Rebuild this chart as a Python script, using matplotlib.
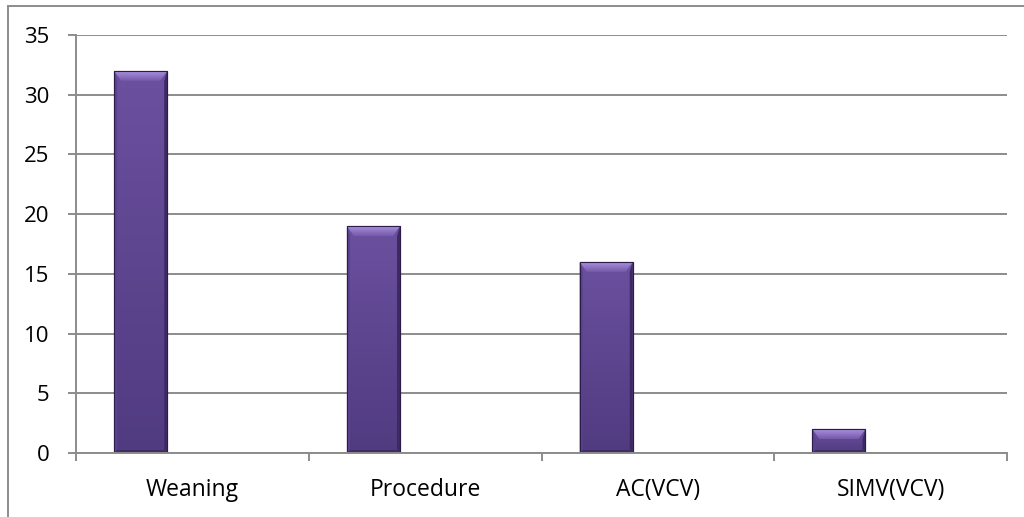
import matplotlib
matplotlib.use("Agg")
import matplotlib.pyplot as plt
import numpy as np
from matplotlib.patches import Polygon
from matplotlib.lines import Line2D
from matplotlib.colors import LinearSegmentedColormap

categories = ["Weaning", "Procedure", "AC(VCV)", "SIMV(VCV)"]
counts = [32, 19, 16, 2]
y_ticks = [0, 5, 10, 15, 20, 25, 30, 35]

plt.rcParams['font.family'] = ['Open Sans', 'DejaVu Sans']

W, H, DPI = 1024, 517, 100
fig = plt.figure(figsize=(W / DPI, H / DPI), dpi=DPI)
ax = fig.add_axes([76 / W, 1 - 453 / H, (1007 - 76) / W, (453 - 35) / H])

x = np.arange(len(categories))
bar_offset = -0.222   # bars sit left of the category centre (empty second series)
bar_width = 0.228

ax.set_xlim(-0.5, len(categories) - 0.5)
ax.set_ylim(0, 35)

# pixel -> data conversion for bevel sizes
px_x = 1.0 / ((1007 - 76) / len(categories))
px_y = 35.0 / (453 - 35)

body_cmap = LinearSegmentedColormap.from_list("body", ["#513b80", "#6b509f"])
top_cmap = LinearSegmentedColormap.from_list("top", ["#7559aa", "#a990de"])
grad = np.linspace(0, 1, 256).reshape(-1, 1)

bars = ax.bar(x + bar_offset, counts, width=bar_width, color="#5f4591",
              edgecolor="#2c1d47", linewidth=0.8, zorder=3)

for rect in bars:
    x0 = rect.get_x()
    x1 = x0 + rect.get_width()
    h = rect.get_height()
    # body gradient
    im = ax.imshow(grad, extent=[x0, x1, 0, h], origin="lower", aspect="auto",
                   cmap=body_cmap, zorder=3.1, interpolation="bilinear")
    im.set_clip_path(rect)
    dx = 7 * px_x
    ds = 3 * px_x
    dt = 10 * px_y
    db = 3 * px_y
    # side bevels
    ax.add_patch(Polygon([(x0, h), (x0 + ds, h - dt), (x0 + ds, db), (x0, 0)],
                         closed=True, facecolor="#5a4290", edgecolor="none", zorder=3.2))
    ax.add_patch(Polygon([(x1, h), (x1 - ds, h - dt), (x1 - ds, db), (x1, 0)],
                         closed=True, facecolor="#3d2a63", edgecolor="none", zorder=3.2))
    # bottom bevel
    ax.add_patch(Polygon([(x0, 0), (x1, 0), (x1 - ds, db), (x0 + ds, db)],
                         closed=True, facecolor="#3f2d63", edgecolor="none", zorder=3.2))
    # top bevel with its own gradient
    top = Polygon([(x0, h), (x1, h), (x1 - dx, h - dt), (x0 + dx, h - dt)],
                  closed=True, facecolor="none", edgecolor="none", zorder=3.3)
    ax.add_patch(top)
    tim = ax.imshow(grad, extent=[x0, x1, h - dt, h], origin="lower", aspect="auto",
                    cmap=top_cmap, zorder=3.3, interpolation="bilinear")
    tim.set_clip_path(top)
    # outline
    ax.add_patch(Polygon([(x0, 0), (x0, h), (x1, h), (x1, 0)], closed=True,
                         facecolor="none", edgecolor="#2c1d47", linewidth=0.8, zorder=3.4))

ax.set_xlim(-0.5, len(categories) - 0.5)
ax.set_ylim(0, 35)

# axes styling
for side in ["top", "right"]:
    ax.spines[side].set_visible(False)
for side in ["left", "bottom"]:
    ax.spines[side].set_color("#8c8c8c")
    ax.spines[side].set_linewidth(1.4)
    ax.spines[side].set_zorder(4)

ax.set_yticks(y_ticks)
ax.yaxis.grid(True, color="#8c8c8c", linewidth=1.4)
ax.set_axisbelow(True)
ax.tick_params(axis="y", length=6, width=1.4, color="#8c8c8c", pad=13,
               labelsize=16, labelcolor="black")

ax.set_xticks(x)
ax.set_xticklabels(categories)
ax.set_xticks(np.arange(-0.5, len(categories)), minor=True)
ax.tick_params(axis="x", which="major", length=0, pad=18, labelsize=16.5, labelcolor="black")
ax.tick_params(axis="x", which="minor", length=6, width=1.4, color="#8c8c8c")

# chart area border (runs off the right and bottom edges)
bx = 7.5 / W
by = 1 - 5.5 / H
fig.add_artist(Line2D([bx, bx], [by, -0.1], transform=fig.transFigure,
                      color="#8c8c8c", linewidth=1.4))
fig.add_artist(Line2D([bx, 1.1], [by, by], transform=fig.transFigure,
                      color="#8c8c8c", linewidth=1.4))

fig.savefig("out.png", dpi=DPI)
